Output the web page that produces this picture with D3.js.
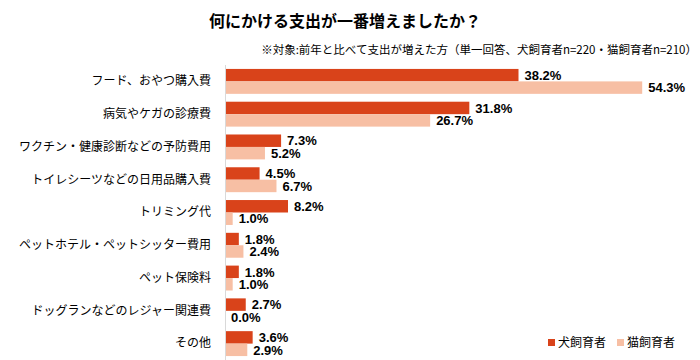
<!DOCTYPE html>
<html><head><meta charset="utf-8">
<script src="https://cdn.jsdelivr.net/npm/d3@7"></script>
<style>body{margin:0;background:#fff}svg{display:block}</style>
</head><body>
<svg id="c" width="700" height="360"></svg>
<script>
const categories = ["フード、おやつ購入費","病気やケガの診療費","ワクチン・健康診断などの予防費用","トイレシーツなどの日用品購入費","トリミング代","ペットホテル・ペットシッター費用","ペット保険料","ドッグランなどのレジャー関連費","その他"];
const seriesNames = ["犬飼育者","猫飼育者"];
const dogValues = [38.2,31.8,7.3,4.5,8.2,1.8,1.8,2.7,3.6];
const catValues = [54.3,26.7,5.2,6.7,1.0,2.4,1.0,0.0,2.9];
const colors = ["#D9431A","#F7BFA4"];
const title = "何にかける支出が一番増えましたか？";
const subtitle = "※対象:前年と比べて支出が増えた方（単一回答、犬飼育者n=220・猫飼育者n=210）";

const svg = d3.select("#c");
const jp = "'Noto Sans CJK JP', sans-serif";
const x = d3.scaleLinear().domain([0,60]).range([225,686]);
const y = d3.scaleBand().domain(categories).range([65,360]).paddingInner(0.24).paddingOuter(0.12);
const ys = d3.scaleBand().domain(seriesNames).range([0,y.bandwidth()]);

svg.append("text").attr("x",345).attr("y",27).attr("text-anchor","middle")
  .attr("font-family",jp).attr("font-weight","bold").attr("font-size",16).attr("fill","#000").text(title);
svg.append("text").attr("x",697).attr("y",54).attr("text-anchor","end")
  .attr("font-family",jp).attr("font-size",11.5).attr("fill","#000").text(subtitle);

const series = [dogValues, catValues];
series.forEach((vals,si)=>{
  const g = svg.append("g");
  g.selectAll("rect").data(vals).join("rect")
    .attr("x",x(0)).attr("y",(d,i)=>y(categories[i])+ys(seriesNames[si]))
    .attr("width",d=>x(d)-x(0)).attr("height",ys.bandwidth()).attr("fill",colors[si]);
  g.selectAll("text").data(vals).join("text")
    .attr("x",d=>x(d)+6).attr("y",(d,i)=>y(categories[i])+ys(seriesNames[si])+ys.bandwidth()/2)
    .attr("dy","0.36em").attr("font-family","'Liberation Sans', Arial, sans-serif")
    .attr("font-weight","bold").attr("font-size",13).attr("fill","#000")
    .text(d=>d.toFixed(1)+"%");
});

const yAxis = d3.axisLeft(y).tickSize(0).tickPadding(14);
const ag = svg.append("g").attr("transform",`translate(${x(0)},0)`).call(yAxis);
ag.select(".domain").attr("stroke","#d9d9d9").attr("d",`M0.5,65V360`);
ag.selectAll("text").attr("font-family",jp).attr("font-size",12).attr("fill","#000");

const lg = svg.append("g");
const lx = [548,617];
seriesNames.forEach((n,i)=>{
  lg.append("rect").attr("x",lx[i]).attr("y",339).attr("width",7).attr("height",7).attr("fill",colors[i]);
  lg.append("text").attr("x",lx[i]+10).attr("y",343).attr("dy","0.36em")
    .attr("font-family",jp).attr("font-size",12).attr("fill","#000").text(n);
});
</script>
</body></html>
